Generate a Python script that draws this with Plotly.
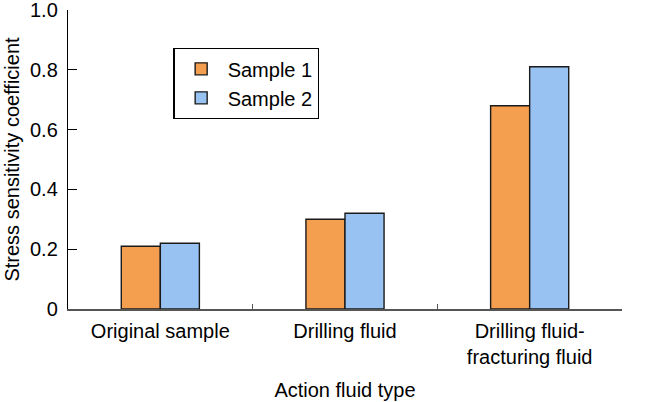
import plotly.graph_objects as go

categories = ["Original sample", "Drilling fluid", "Drilling fluid-<br>fracturing fluid"]
sample1 = [0.21, 0.30, 0.68]
sample2 = [0.22, 0.32, 0.81]
y_tickvals = [0, 0.2, 0.4, 0.6, 0.8, 1.0]
y_ticktext = ["0", "0.2", "0.4", "0.6", "0.8", "1.0"]

FONT = "Liberation Sans, Arial, sans-serif"

fig = go.Figure()
fig.add_trace(go.Bar(name="Sample 1", x=categories, y=sample1,
                     marker=dict(color="#F49F50", line=dict(color="#1a1a1a", width=1.4))))
fig.add_trace(go.Bar(name="Sample 2", x=categories, y=sample2,
                     marker=dict(color="#98C2F1", line=dict(color="#1a1a1a", width=1.4))))

fig.update_layout(
    width=650, height=402,
    margin=dict(l=68, r=28, t=10, b=93, autoexpand=False),
    paper_bgcolor="white", plot_bgcolor="white",
    barmode="group", bargap=0.577, bargroupgap=0,
    font=dict(family=FONT, size=20, color="black"),
    legend=dict(x=0.19, y=0.873, xanchor="left", yanchor="top",
                bordercolor="black", borderwidth=1.4, bgcolor="white",
                font=dict(size=20), tracegroupgap=0, itemwidth=43),
    xaxis=dict(showline=True, linecolor="#555555", linewidth=1.5, automargin=False,
               ticks="inside", tickson="boundaries", ticklen=5, tickcolor="#555555",
               tickfont=dict(size=20), ticklabelstandoff=3,
               title=dict(text="Action fluid type", font=dict(size=20), standoff=16)),
    yaxis=dict(range=[0, 1.0], showline=True, linecolor="black", linewidth=1.4, automargin=False,
               ticks="inside", ticklen=9, tickcolor="black", ticklabeloverflow="allow",
               tickvals=y_tickvals, ticktext=y_ticktext, showgrid=False, zeroline=False,
               tickfont=dict(size=20), ticklabelstandoff=5,
               title=dict(text="Stress sensitivity coefficient", font=dict(size=20), standoff=4)),
)

fig.write_html("out.html", config={"displayModeBar": False},
               post_script="document.body.style.margin='0';document.body.style.overflow='hidden';")
